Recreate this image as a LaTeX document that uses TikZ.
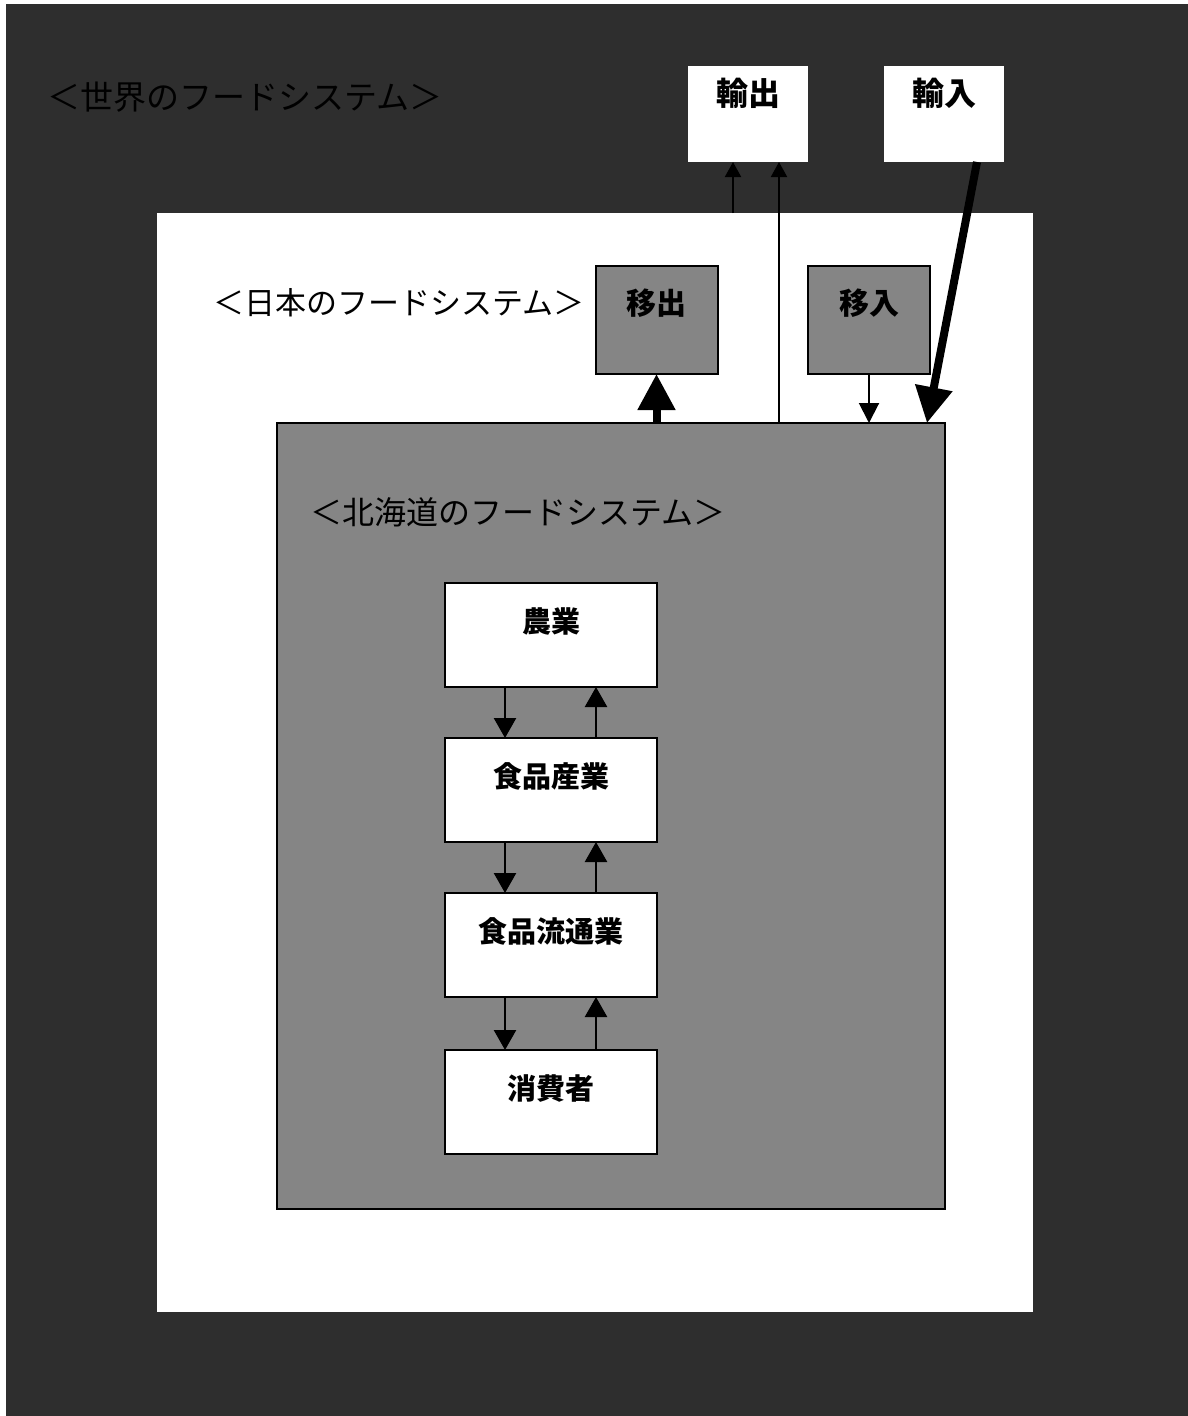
\documentclass[tikz,border=0pt]{standalone}
\usepackage{fontspec}
\setmainfont{Noto Sans CJK JP}
\usetikzlibrary{arrows.meta}
\definecolor{darkbg}{HTML}{2E2E2E}
\definecolor{midgray}{HTML}{858585}
\begin{document}
\begin{tikzpicture}[x=1pt,y=-1pt,
  region/.style={draw=none,minimum width=#1,inner sep=0pt,outer sep=0pt},
  graybox/.style={draw=black,line width=2pt,fill=midgray,minimum width=122pt,minimum height=108pt,inner sep=0pt,outer sep=0pt,
     font=\fontsize{30}{30}\selectfont\bfseries,text height=28pt,text depth=39pt},
  topbox/.style={draw=none,fill=white,minimum width=120pt,minimum height=96pt,inner sep=0pt,outer sep=0pt,
     font=\fontsize{32}{32}\selectfont\bfseries,text height=30pt,text depth=48pt},
  stage/.style={draw=black,line width=2.5pt,fill=white,minimum width=212pt,minimum height=104pt,inner sep=0pt,outer sep=0pt,
     font=\fontsize{29}{29}\selectfont\bfseries,text height=26pt,text depth=31pt},
  titletext/.style={inner sep=0pt,font=\fontsize{#1}{#1}\selectfont},
  bigarrow/.style={line width=8pt,-{Triangle[width=36pt,length=36pt]}},
  smallarrow/.style={line width=2pt,-{Triangle[width=16pt,length=15pt]}},
  midarrow/.style={line width=2pt,-{Triangle[width=20pt,length=20pt]}},
  flowarrow/.style={line width=2.5pt,-{Triangle[width=22pt,length=20pt]}}
]
\useasboundingbox (0,0) rectangle (1188,1416);
\fill[white] (0,0) rectangle (1188,1416);
% world frame
\node[region=1182pt,minimum height=1412pt,fill=darkbg] (world) at (597,710) {};
\node[titletext=33,text=black] (worldtitle) at (245,97) {＜世界のフードシステム＞};
% export / import boxes
\node[topbox] (yushutsu) at (748,114) {輸出};
\node[topbox] (yunyu) at (944,114) {輸入};
% japan box
\node[region=876pt,minimum height=1099pt,fill=white] (japan) at (595,762.5) {};
\node[titletext=31] (japantitle) at (399,303) {＜日本のフードシステム＞};
\node[graybox] (ishutsu) at (656.5,320) {移出};
\node[graybox] (inyu) at (869,320) {移入};
% hokkaido box
\node[draw=black,line width=1.5pt,fill=midgray,minimum width=668pt,minimum height=786pt,inner sep=0pt,outer sep=0pt] (hokkaido) at (611,816) {};
\node[titletext=32,text=black] (hokkaidotitle) at (518,512) {＜北海道のフードシステム＞};
% stages
\node[stage] (nogyo) at (551,635) {農業};
\node[stage] (shokuhin) at (551,790) {食品産業};
\node[stage] (ryutsu) at (551,945) {食品流通業};
\node[stage] (shohisha) at (551,1102) {消費者};
% coordinates for free ends
\coordinate (ex1) at (733,213);
\coordinate (ex2) at (779,423);
\coordinate (im1) at (977,162);
\coordinate (im2) at (927,423);
% connectors
\draw[bigarrow] (hokkaido.north -| ishutsu.south) -- (ishutsu.south);
\draw[smallarrow] (ex1) -- (ex1 |- yushutsu.south);
\draw[smallarrow] (ex2) -- (ex2 |- yushutsu.south);
\draw[bigarrow] (im1) -- (im2);
\draw[midarrow] (inyu.south) -- (inyu.south |- hokkaido.north);
\foreach \a/\b in {nogyo/shokuhin,shokuhin/ryutsu,ryutsu/shohisha}{
  \draw[flowarrow] ([xshift=-46pt]\a.south) -- ([xshift=-46pt]\b.north);
  \draw[flowarrow] ([xshift=45pt]\b.north) -- ([xshift=45pt]\a.south);
}
\end{tikzpicture}
\end{document}
